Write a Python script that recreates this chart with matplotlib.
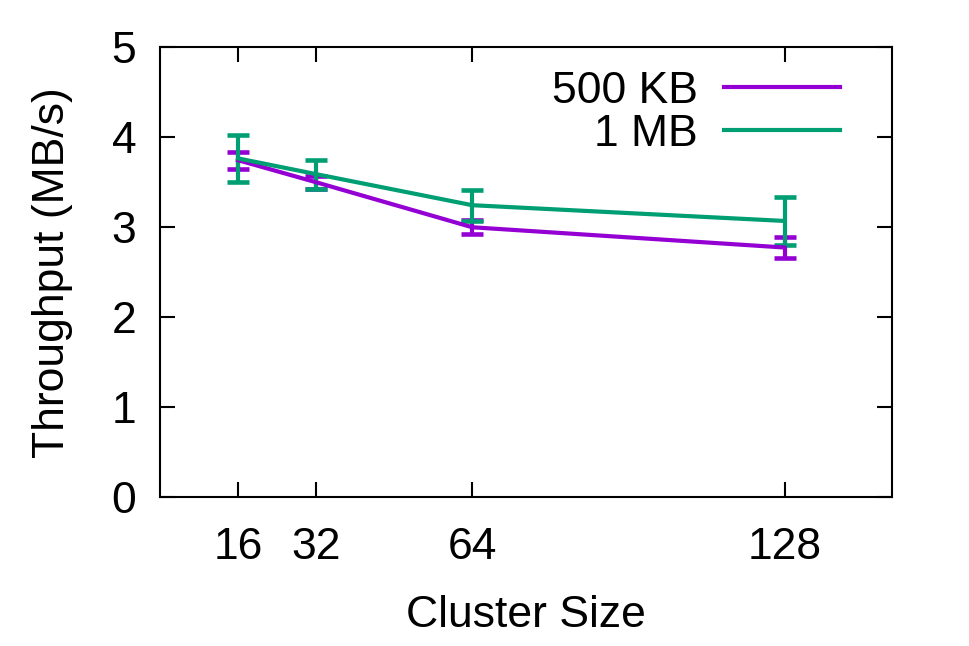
import matplotlib
matplotlib.use('Agg')
import matplotlib.pyplot as plt

plt.rcParams['font.family'] = ['Liberation Sans', 'DejaVu Sans']

# data
cluster_sizes = [16, 32, 64, 128]
kb500_mean = [3.745, 3.50, 3.00, 2.775]
kb500_err = [0.095, 0.07, 0.08, 0.12]
mb1_mean = [3.765, 3.59, 3.245, 3.07]
mb1_err = [0.265, 0.16, 0.17, 0.27]
series_labels = ['500 KB', '1 MB']

PURPLE = '#9400D3'
GREEN = '#009E73'
FS = 32

fig = plt.figure(figsize=(9.69, 6.46), dpi=100)
ax = fig.add_axes([0.165, 0.230, 0.7555, 0.697])

ax.errorbar(cluster_sizes, kb500_mean, yerr=kb500_err, color=PURPLE, lw=3,
            elinewidth=3, capsize=8, capthick=3.3, label=series_labels[0])
ax.errorbar(cluster_sizes, mb1_mean, yerr=mb1_err, color=GREEN, lw=3,
            elinewidth=3, capsize=8, capthick=3.3, label=series_labels[1])

ax.set_xlim(0, 150)
ax.set_ylim(0, 5)
ax.set_xticks(cluster_sizes)
ax.set_yticks([0, 1, 2, 3, 4, 5])
ax.tick_params(direction='in', length=11, width=1.5, top=True, right=True,
               labelsize=FS)
ax.tick_params(axis='x', pad=21)
ax.tick_params(axis='y', pad=17)
for s in ax.spines.values():
    s.set_linewidth(1.5)

ax.set_xlabel('Cluster Size', fontsize=FS, labelpad=20)
ax.set_ylabel('Throughput (MB/s)', fontsize=FS, labelpad=28)

handles, labels = ax.get_legend_handles_labels()
handles = [h[0] for h in handles]
ax.legend(handles, labels, loc='upper right', bbox_to_anchor=(0.929, 0.948),
          frameon=False, markerfirst=False, fontsize=FS, handlelength=2.6,
          handletextpad=0.6, labelspacing=0.05, borderaxespad=0, borderpad=0)

fig.savefig('out.png', dpi=100)
